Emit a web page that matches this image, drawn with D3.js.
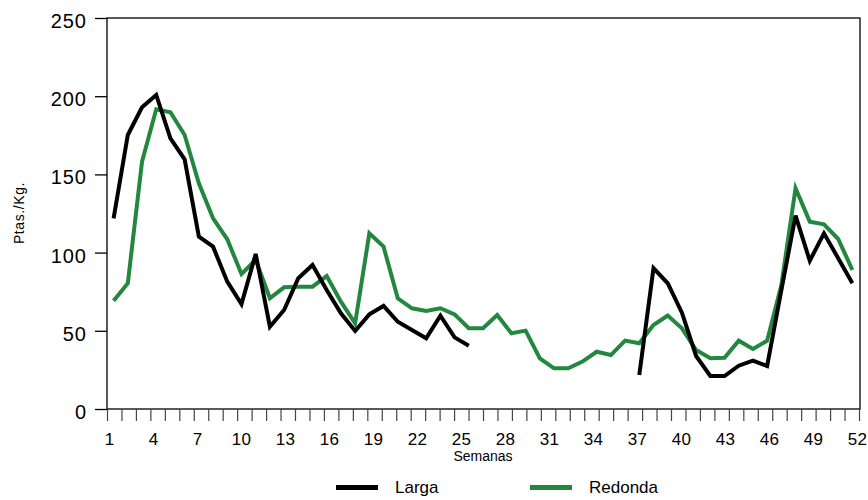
<!DOCTYPE html>
<html>
<head>
<meta charset="utf-8">
<script src="https://cdn.jsdelivr.net/npm/d3@7"></script>
<style>
  html, body { margin: 0; padding: 0; background: #fff; }
  svg { display: block; }
</style>
</head>
<body>
<svg id="chart" width="868" height="500"></svg>
<script>
// ---- data ----
const weeks = [1,2,3,4,5,6,7,8,9,10,11,12,13,14,15,16,17,18,19,20,21,22,23,24,25,26,27,28,29,30,31,32,33,34,35,36,37,38,39,40,41,42,43,44,45,46,47,48,49,50,51,52,53];
const larga = [121.9,175.2,192.9,200.8,173,159.6,110.2,103.8,81.4,67.1,99.1,52.6,63.3,83.6,92.1,76.1,61.2,49.9,60.5,65.9,55.8,50.5,45.2,59.7,45.8,40.5,
  null,null,null,null,null,null,null,null,null,null,null,
  21.7,90.0,80.4,61.6,33.9,21.1,21.1,27.7,30.9,27.5,76,123.6,94.8,112.3,96.4,80.4];
const redonda = [69.2,80.4,158.1,191.6,189.7,175.2,144.3,121.9,108.5,86.3,95.3,70.8,77.8,78.2,78.2,85.0,68.6,54.8,112.3,103.8,70.8,64.4,62.7,64.4,60.5,51.6,
  51.6,60.1,48.4,50.1,32.4,26.0,26.0,30.3,36.6,34.5,43.7,42.0,
  53.7,59.7,51.6,37.7,32.4,32.8,43.7,38.4,43.7,79.3,141.1,119.8,118.1,108.7,88.9];
const yTicks = [0,50,100,150,200,250];
const xTickLabels = [1,4,7,10,13,16,19,22,25,28,31,34,37,40,43,46,49,52];
const tickMarks = d3.range(0, 53);
const seriesNames = ["Larga","Redonda"];
const seriesColors = ["#000000","#23873f"];
const yTitle = "Ptas./Kg.";
const xTitle = "Semanas";

// ---- layout ----
const L = 107, R = 860, T = 18, B = 409;
const svg = d3.select("#chart");
const numFont = "'Liberation Sans', Arial, sans-serif";
const txtFont = "'Liberation Sans', Arial, sans-serif";

const x = d3.scaleBand().domain(weeks).range([106.5, 859.5]);
const xTick = d3.scaleLinear().domain([0, 52]).range([L, 859]);
const xLab = d3.scaleLinear().domain([1, 52]).range([109, 857]);
const y = d3.scaleLinear().domain([0, 250]).range([B, T]);

// frame
svg.append("rect").attr("x", L).attr("y", T).attr("width", R - L).attr("height", B - T)
  .attr("fill", "none").attr("stroke", "#000").attr("stroke-width", 1.3);

// left axis
const ya = svg.append("g").attr("transform", `translate(${L},0)`)
  .call(d3.axisLeft(y).tickValues(yTicks).tickSize(12).tickPadding(8).tickSizeOuter(0));
ya.select(".domain").remove();
ya.selectAll(".tick line").attr("stroke", "#000").attr("stroke-width", 1.3);
ya.selectAll(".tick text").attr("font-family", numFont).attr("font-size", 20)
  .attr("fill", "#000").attr("transform", "translate(0,3)").attr("letter-spacing", 1);

// bottom tick marks
const xa = svg.append("g").attr("transform", `translate(0,${B})`)
  .call(d3.axisBottom(xTick).tickValues(tickMarks).tickSize(12).tickFormat("").tickSizeOuter(0));
xa.select(".domain").remove();
xa.selectAll(".tick line").attr("stroke", "#444").attr("stroke-width", 1.2);

// bottom labels
const xl = svg.append("g").attr("transform", `translate(0,${B})`)
  .call(d3.axisBottom(xLab).tickValues(xTickLabels).tickSize(0).tickPadding(24).tickSizeOuter(0));
xl.select(".domain").remove();
xl.selectAll(".tick text").attr("font-family", numFont).attr("font-size", 17).attr("fill", "#000")
  .attr("dy", "0").attr("y", 36).attr("letter-spacing", 0.3);

// titles
svg.append("text").attr("transform", "translate(24,213) rotate(-90)")
  .attr("text-anchor", "middle").attr("font-family", txtFont).attr("font-size", 14)
  .attr("letter-spacing", 0.6).text(yTitle);
svg.append("text").attr("x", 483).attr("y", 461).attr("text-anchor", "middle")
  .attr("font-family", txtFont).attr("font-size", 14).text(xTitle);

// lines
const series = [larga, redonda];
const line = d3.line()
  .defined(d => d.v != null)
  .x(d => x(d.w) + x.bandwidth() / 2)
  .y(d => y(d.v));
[1, 0].forEach(i => {
  const pts = weeks.map((w, j) => ({ w, v: series[i][j] }));
  svg.append("path").datum(pts).attr("d", line)
    .attr("fill", "none").attr("stroke", seriesColors[i]).attr("stroke-width", 4)
    .attr("stroke-linejoin", "miter").attr("stroke-miterlimit", 4);
});

// legend
const legX = [336, 530];
seriesNames.forEach((n, i) => {
  svg.append("line").attr("x1", legX[i]).attr("x2", legX[i] + 42).attr("y1", 487.5).attr("y2", 487.5)
    .attr("stroke", seriesColors[i]).attr("stroke-width", 5);
  svg.append("text").attr("x", legX[i] + 59).attr("y", 493).attr("font-family", txtFont)
    .attr("font-size", 17).text(n);
});
</script>
</body>
</html>
